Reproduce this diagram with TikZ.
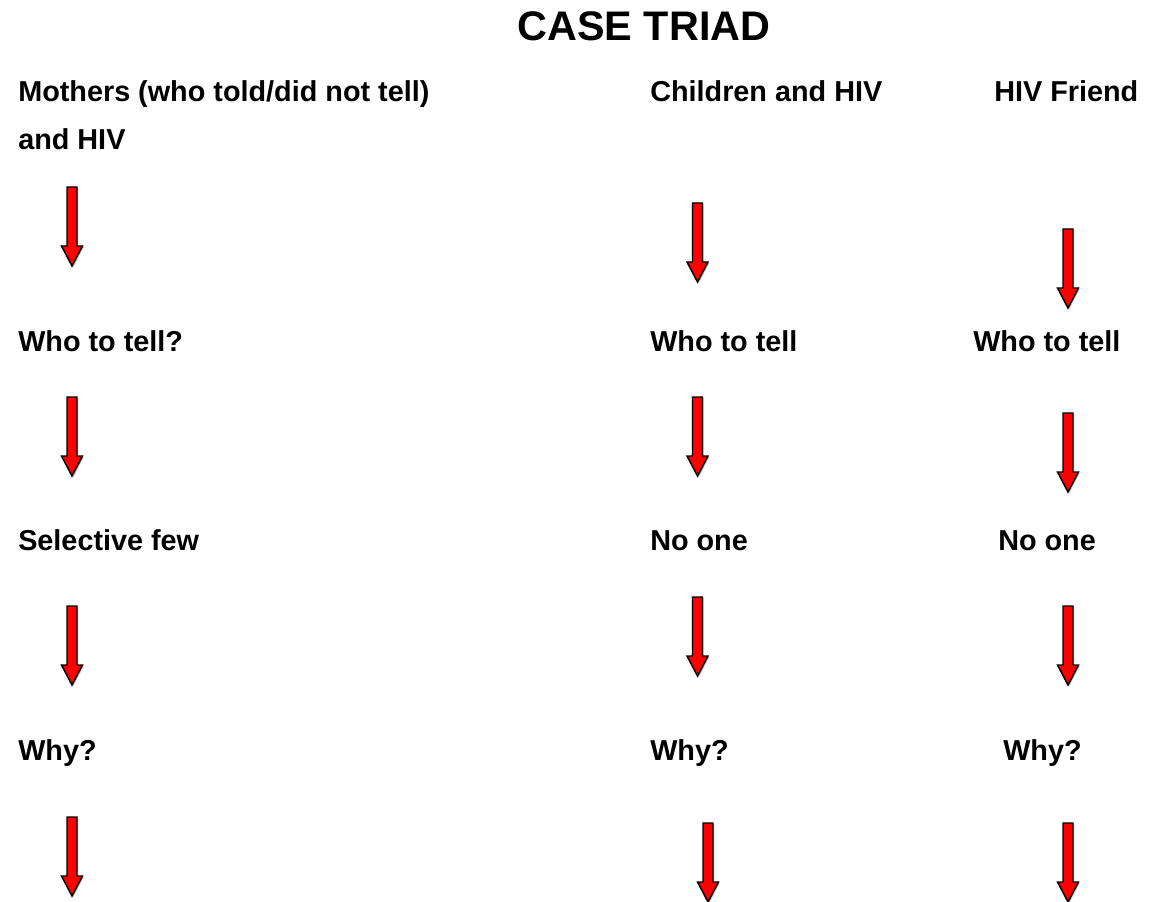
\documentclass[tikz,border=0pt]{standalone}
\usepackage{fontspec}
\setmainfont{Liberation Sans}
\begin{document}
\begin{tikzpicture}[x=0.75pt,y=-0.75pt,
  lbl/.style={anchor=base west,inner sep=0pt,font=\fontsize{21.6pt}{26pt}\selectfont\bfseries},
  ttl/.style={anchor=base,inner sep=0pt,font=\fontsize{31pt}{36pt}\selectfont\bfseries},
  pics/downarrow/.style={code={
    \fill[black!25] (-4.2,1.2) -- (6.2,1.2) -- (6.2,60.2) -- (11.7,60.2) -- (1.2,80.2) -- (-9.3,60.2) -- (-4.2,60.2) -- cycle;
    \draw[fill=red,draw=black,line width=1.1pt,line join=miter]
      (-5,0) -- (5,0) -- (5,59) -- (10.5,59) -- (0,79) -- (-10.5,59) -- (-5,59) -- cycle;
  }}]
\useasboundingbox (0,0) rectangle (1157,902);
\fill[white] (0,0) rectangle (1157,902);

% title
\node[ttl] (title) at (644,41) {CASE TRIAD};

% column headings
\node[lbl] (mothers) at (18,102) {Mothers (who told/did not tell)};
\node[lbl] (mothers2) at (18,150) {and HIV};
\node[lbl] (children) at (650,102) {Children and HIV};
\node[lbl] (friend) at (994,102) {HIV Friend};

% second row
\node[lbl] (who1) at (18,352) {Who to tell?};
\node[lbl] (who2) at (650,352) {Who to tell};
\node[lbl] (who3) at (973,352) {Who to tell};

% third row
\node[lbl] (sel1) at (18,550) {Selective few};
\node[lbl] (none2) at (650,550) {No one};
\node[lbl] (none3) at (998,550) {No one};

% fourth row
\node[lbl] (why1) at (18,760) {Why?};
\node[lbl] (why2) at (650,760) {Why?};
\node[lbl] (why3) at (1003,760) {Why?};

% block arrows, mothers column
\pic at (72,187) {downarrow};
\pic at (72,397) {downarrow};
\pic at (72,606) {downarrow};
\pic at (72,817) {downarrow};

% block arrows, children column
\pic at (697.5,203) {downarrow};
\pic at (697.5,397) {downarrow};
\pic at (697.5,597) {downarrow};
\pic at (708,823) {downarrow};

% block arrows, friend column
\pic at (1068,229) {downarrow};
\pic at (1068,413) {downarrow};
\pic at (1068,606) {downarrow};
\pic at (1068,823) {downarrow};
\end{tikzpicture}
\end{document}
